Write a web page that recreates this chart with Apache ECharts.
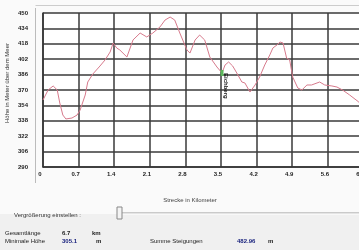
<!DOCTYPE html>
<html>
<head>
<meta charset="utf-8">
<script src="https://cdn.jsdelivr.net/npm/echarts@6/dist/echarts.min.js"></script>
<style>
  html, body { margin: 0; padding: 0; width: 359px; height: 250px; overflow: hidden; background: #fafafa; }
  /* chart is wider than the window: the plot runs off the right edge like in the screenshot */
  #chart { width: 420px; height: 250px; }
</style>
</head>
<body>
<div id="chart"></div>
<script>
// Höhenprofil: Strecke (km) / Höhe (m)
const distKm = [0, 0.10, 0.20, 0.28, 0.33, 0.39, 0.45, 0.57, 0.67, 0.73, 0.83, 0.88, 0.98, 1.12, 1.22, 1.32, 1.38,
  1.45, 1.51, 1.65, 1.77, 1.91, 2.04, 2.16, 2.30, 2.40, 2.50, 2.59, 2.69, 2.83, 2.89, 2.99, 3.08, 3.18, 3.28,
  3.42, 3.52, 3.58, 3.65, 3.73, 3.81, 3.91, 3.97, 4.07, 4.17, 4.26, 4.36, 4.46, 4.52, 4.60, 4.66, 4.72, 4.79,
  4.85, 4.91, 5.01, 5.09, 5.19, 5.28, 5.44, 5.54, 5.68, 5.78, 5.89, 6.03, 6.21, 6.35]
const heightM = [359.6, 370.0, 374.2, 370.0, 356.5, 344.0, 339.9, 340.9, 344.0, 349.2, 364.8, 378.3, 386.6, 394.9,
  401.2, 409.5, 418.8, 413.6, 411.6, 404.3, 422.0, 429.2, 425.1, 429.2, 435.5, 442.7, 445.8, 442.7, 429.2, 411.6,
  408.4, 421.9, 427.1, 421.9, 404.3, 393.9, 387.7, 396.0, 399.1, 394.9, 387.7, 378.3, 377.3, 367.9, 375.2, 383.5,
  396.0, 406.4, 413.6, 416.8, 419.9, 418.8, 403.2, 401.2, 383.5, 372.1, 370.0, 375.2, 375.2, 378.3, 375.2, 374.2,
  373.1, 370.0, 364.8, 357.5, 350.0]

// Achsen
const yMin = 290, yMax = 450, yStep = 16
const xMax = 7.0, xStep = 0.7

// Wegpunkt
const waypointKm = 3.52
const waypointHeight = 387.7
const waypointName = 'Eichberg'

// Statistik unten
const statNames = ['Gesamtlänge', 'Minimale Höhe', 'Summe Steigungen']
const statValues = ['6.7', '305.1', '482.96']
const statUnits = ['km', 'm', 'm']

// y values are shifted by yMin so that the tick grid starts at 0 (multiple of yStep)
const seriesData = distKm.map((d, i) => [d, heightM[i] - yMin])

const FONT = 'Liberation Sans'
const chart = echarts.init(document.getElementById('chart'))

const txt = (x, y, text, extra) => ({
  type: 'text', x, y, silent: true,
  style: Object.assign({ text, fill: '#222', font: '6px "' + FONT + '"' }, extra || {})
})

const option = {
  backgroundColor: '#fafafa',
  animation: false,
  grid: { left: 43, top: 13, width: 356, height: 154, backgroundColor: '#fff', show: true, borderWidth: 0 },
  xAxis: {
    type: 'value', min: 0, max: xMax, interval: xStep,
    axisLine: { show: true, lineStyle: { color: '#333', width: 1.5 } },
    axisTick: { show: false },
    axisLabel: {
      color: '#222', fontSize: 6, fontWeight: 'bold', fontFamily: FONT, margin: 4, padding: [0, 6, 0, 0],
      formatter: v => String(parseFloat(v.toFixed(1)))
    },
    splitLine: { show: true, lineStyle: { color: '#3a3a3a', width: 1.5 } }
  },
  yAxis: {
    type: 'value', min: 0, max: yMax - yMin, interval: yStep,
    axisLine: { show: true, lineStyle: { color: '#333', width: 1.5 } },
    axisTick: { show: false },
    axisLabel: {
      color: '#222', fontSize: 6, fontWeight: 'bold', fontFamily: FONT, margin: 15,
      formatter: v => String(v + yMin)
    },
    splitLine: { show: true, lineStyle: { color: '#3a3a3a', width: 1.5 } }
  },
  series: [{
    type: 'line',
    data: seriesData,
    showSymbol: false,
    smooth: false,
    lineStyle: { color: '#d77a8c', width: 1 },
    markPoint: {
      silent: true,
      symbol: 'rect', symbolSize: [3, 6],
      itemStyle: { color: '#5cb85c' },
      label: {
        show: true, position: 'right', distance: 2, rotate: -90,
        color: '#111', fontSize: 6, fontWeight: 'bold', fontFamily: FONT,
        formatter: () => waypointName
      },
      data: [{ coord: [waypointKm, waypointHeight - yMin] }]
    }
  }],
  graphic: [
    // Fensterrahmen
    { type: 'line', silent: true, shape: { x1: 35.5, y1: 8, x2: 35.5, y2: 183 }, style: { stroke: '#bbb', lineWidth: 1 } },
    { type: 'line', silent: true, shape: { x1: 35.5, y1: 5.5, x2: 359, y2: 5.5 }, style: { stroke: '#ccc', lineWidth: 1 } },
    // Achsentitel
    txt(7, 83, 'Höhe in Meter über dem Meer', { align: 'center', verticalAlign: 'middle', fill: '#333' }),
    txt(190, 200, 'Strecke in Kilometer', { align: 'center', verticalAlign: 'middle', fill: '#444' }),
    // unterer Bereich
    { type: 'rect', silent: true, z: -1, shape: { x: 0, y: 214, width: 420, height: 40 }, style: { fill: '#f0f0f0' } },
    txt(14, 215, 'Vergrößerung einstellen :', { verticalAlign: 'middle', fill: '#333' }),
    { type: 'line', silent: true, shape: { x1: 120, y1: 213, x2: 420, y2: 213 }, style: { stroke: '#9a9a9a', lineWidth: 1 } },
    { type: 'line', silent: true, shape: { x1: 120, y1: 214, x2: 420, y2: 214 }, style: { stroke: '#fff', lineWidth: 1 } },
    { type: 'rect', silent: true, shape: { x: 117, y: 207, width: 5, height: 12 }, style: { fill: '#f4f4f4', stroke: '#888', lineWidth: 1 } },
    txt(5, 233, statNames[0], { verticalAlign: 'middle' }),
    txt(62, 233, statValues[0], { verticalAlign: 'middle', font: 'bold 6px "' + FONT + '"' }),
    txt(92, 233, statUnits[0], { verticalAlign: 'middle', font: 'bold 6px "' + FONT + '"' }),
    txt(5, 241, statNames[1], { verticalAlign: 'middle' }),
    txt(62, 241, statValues[1], { verticalAlign: 'middle', fill: '#1a237e', font: 'bold 6px "' + FONT + '"' }),
    txt(96, 241, statUnits[1], { verticalAlign: 'middle', font: 'bold 6px "' + FONT + '"' }),
    txt(150, 241, statNames[2], { verticalAlign: 'middle' }),
    txt(237, 241, statValues[2], { verticalAlign: 'middle', fill: '#1a237e', font: 'bold 6px "' + FONT + '"' }),
    txt(268, 241, statUnits[2], { verticalAlign: 'middle', font: 'bold 6px "' + FONT + '"' })
  ]
}
// rotate the y-axis title
option.graphic[2].rotation = Math.PI / 2

chart.setOption(option)
</script>
</body>
</html>
